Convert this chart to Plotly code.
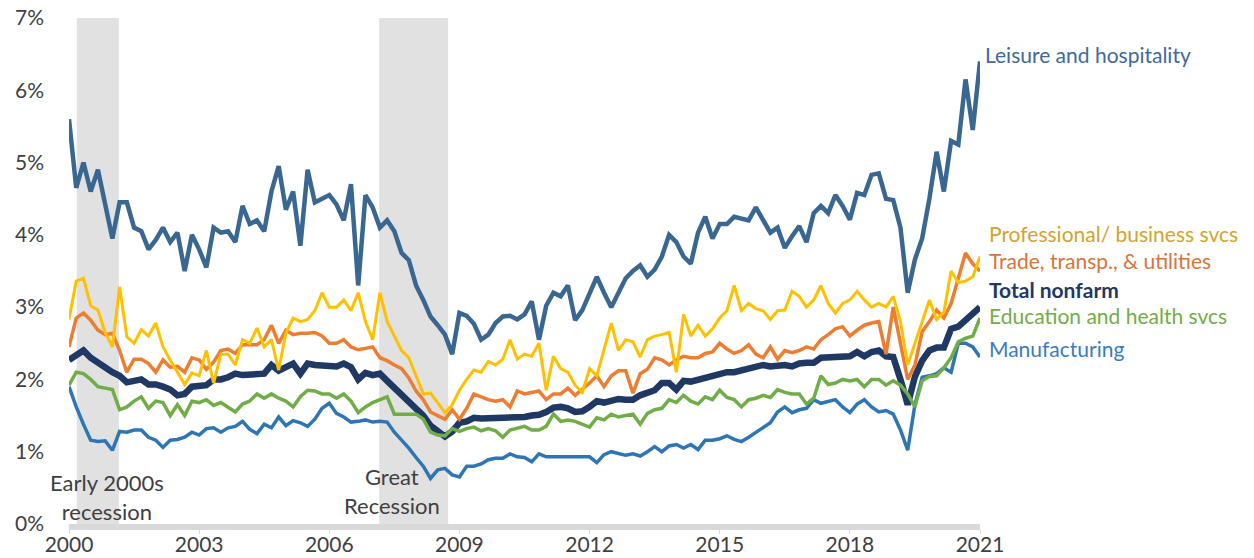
"""Quit rates by industry, 2000-2021, with recession shading."""

import plotly.graph_objects as go

# bimonthly observations, 2000 .. 2021
years = [2000 + i / 6 for i in range(127)]

leisure = [
    5.6, 4.65, 5.0, 4.6, 4.9, 4.4, 3.95, 4.45, 4.45, 4.1,
    4.05, 3.8, 3.93, 4.1, 3.9, 4.03, 3.5, 4.0, 3.8, 3.55,
    4.1, 4.03, 4.05, 3.9, 4.4, 4.15, 4.2, 4.05, 4.6, 4.95,
    4.35, 4.6, 3.85, 4.9, 4.45, 4.5, 4.55, 4.42, 4.2, 4.7,
    3.3, 4.55, 4.38, 4.1, 4.2, 4.05, 3.75, 3.65, 3.3, 3.1,
    2.87, 2.75, 2.62, 2.35, 2.92, 2.88, 2.77, 2.55, 2.62, 2.78,
    2.87, 2.88, 2.83, 2.9, 3.08, 2.55, 3.02, 3.2, 3.15, 3.3,
    2.82, 2.96, 3.18, 3.42, 3.2, 3.0, 3.2, 3.4, 3.5, 3.58,
    3.42, 3.52, 3.7, 4.0, 3.9, 3.7, 3.6, 4.03, 4.25, 3.95,
    4.15, 4.15, 4.25, 4.22, 4.2, 4.38, 4.2, 4.03, 4.1, 3.82,
    3.98, 4.12, 3.9, 4.3, 4.4, 4.3, 4.55, 4.4, 4.21, 4.58,
    4.55, 4.83, 4.85, 4.5, 4.48, 4.1, 3.2, 3.66, 3.95, 4.5,
    5.15, 4.6, 5.3, 5.25, 6.15, 5.45, 6.4,
]

professional = [
    2.83, 3.36, 3.4, 3.02, 2.96, 2.65, 2.45, 3.28, 2.59, 2.5,
    2.69, 2.6, 2.78, 2.45, 2.27, 2.1, 1.93, 2.09, 2.05, 2.4,
    1.95, 2.35, 2.35, 2.2, 2.55, 2.5, 2.71, 2.45, 2.55, 2.13,
    2.64, 2.85, 2.8, 2.83, 2.95, 3.2, 3.0, 3.0, 3.1, 2.95,
    3.2, 2.8, 2.55, 3.2, 2.8, 2.6, 2.4, 2.3, 2.05, 1.8,
    1.81, 1.68, 1.54, 1.65, 1.85, 2.0, 2.13, 2.1, 2.25, 2.2,
    2.28, 2.55, 2.28, 2.35, 2.32, 2.5, 1.85, 2.32, 2.15, 2.1,
    1.92, 1.82, 2.15, 2.05, 2.4, 2.78, 2.4, 2.55, 2.52, 2.31,
    2.55, 2.6, 2.62, 2.65, 2.1, 2.9, 2.6, 2.75, 2.6, 2.7,
    2.85, 2.95, 3.3, 2.95, 3.05, 2.98, 2.95, 2.83, 2.95, 2.96,
    3.22, 3.15, 3.0, 3.1, 3.3, 3.05, 2.92, 3.05, 3.1, 3.22,
    3.1, 3.0, 3.05, 3.0, 3.15, 2.8, 2.2, 2.5, 2.8, 3.1,
    2.83, 2.93, 3.5, 3.34, 3.36, 3.42, 3.7,
]

trade = [
    2.45, 2.85, 2.92, 2.82, 2.68, 2.62, 2.64, 2.4, 2.1, 2.28,
    2.28, 2.22, 2.1, 2.27, 2.17, 2.18, 2.1, 2.3, 2.27, 2.14,
    2.24, 2.4, 2.42, 2.36, 2.48, 2.48, 2.48, 2.55, 2.75, 2.5,
    2.68, 2.62, 2.64, 2.64, 2.65, 2.6, 2.5, 2.5, 2.55, 2.45,
    2.41, 2.43, 2.45, 2.3, 2.26, 2.2, 2.15, 2.02, 1.84, 1.72,
    1.55, 1.5, 1.45, 1.58, 1.45, 1.6, 1.8, 1.76, 1.72, 1.7,
    1.72, 1.62, 1.84, 1.8, 1.82, 1.84, 1.72, 1.8, 1.8, 1.88,
    1.78, 1.86, 1.95, 2.05, 1.9, 2.05, 2.12, 2.12, 1.81, 2.08,
    2.14, 2.3, 2.27, 2.2, 2.27, 2.32, 2.3, 2.3, 2.36, 2.38,
    2.5, 2.42, 2.36, 2.4, 2.48, 2.35, 2.3, 2.45, 2.28, 2.4,
    2.37, 2.4, 2.45, 2.42, 2.55, 2.62, 2.7, 2.73, 2.6, 2.68,
    2.75, 2.78, 2.8, 2.35, 3.0, 2.5, 2.0, 2.2, 2.66, 2.8,
    2.96, 2.85, 3.05, 3.4, 3.75, 3.6, 3.5,
]

total_nonfarm = [
    2.27, 2.33, 2.4, 2.3, 2.23, 2.15, 2.1, 2.05, 1.96, 1.98,
    2.0, 1.93, 1.93, 1.9, 1.86, 1.78, 1.8, 1.9, 1.9, 1.92,
    2.0, 2.0, 2.03, 2.08, 2.06, 2.07, 2.06, 2.08, 2.2, 2.12,
    2.17, 2.22, 2.08, 2.22, 2.2, 2.2, 2.2, 2.18, 2.22, 2.17,
    2.0, 2.09, 2.06, 2.08, 1.98, 1.88, 1.8, 1.7, 1.6, 1.5,
    1.36, 1.28, 1.21, 1.28, 1.4, 1.42, 1.47, 1.46, 1.46, 1.47,
    1.46, 1.47, 1.46, 1.48, 1.5, 1.51, 1.55, 1.61, 1.62, 1.6,
    1.55, 1.56, 1.62, 1.7, 1.68, 1.71, 1.73, 1.72, 1.72, 1.78,
    1.82, 1.85, 1.95, 1.95, 1.86, 1.98, 1.97, 2.0, 2.02, 2.05,
    2.09, 2.1, 2.1, 2.13, 2.16, 2.17, 2.2, 2.18, 2.2, 2.2,
    2.18, 2.22, 2.23, 2.23, 2.3, 2.3, 2.31, 2.31, 2.32, 2.38,
    2.32, 2.38, 2.4, 2.32, 2.31, 2.0, 1.65, 2.04, 2.26, 2.4,
    2.44, 2.44, 2.7, 2.73, 2.82, 2.9, 3.0,
]

education = [
    1.92, 2.1, 2.08, 2.0, 1.9, 1.88, 1.86, 1.58, 1.62, 1.7,
    1.76, 1.6, 1.7, 1.68, 1.5, 1.65, 1.5, 1.7, 1.68, 1.72,
    1.64, 1.68, 1.62, 1.55, 1.66, 1.7, 1.8, 1.74, 1.8, 1.74,
    1.7, 1.62, 1.76, 1.85, 1.84, 1.8, 1.8, 1.74, 1.8, 1.7,
    1.54, 1.62, 1.68, 1.72, 1.76, 1.52, 1.52, 1.52, 1.52, 1.45,
    1.27, 1.23, 1.22, 1.32, 1.28, 1.32, 1.34, 1.29, 1.32, 1.29,
    1.2, 1.3, 1.32, 1.35, 1.3, 1.3, 1.35, 1.52, 1.42, 1.44,
    1.42, 1.38, 1.34, 1.47, 1.44, 1.52, 1.48, 1.5, 1.52, 1.38,
    1.53, 1.58, 1.6, 1.72, 1.68, 1.78, 1.7, 1.66, 1.76, 1.72,
    1.85, 1.75, 1.72, 1.62, 1.72, 1.74, 1.78, 1.75, 1.86, 1.82,
    1.8, 1.8, 1.66, 1.74, 2.05, 1.93, 1.95, 2.0, 1.98, 2.0,
    1.9, 2.0, 2.0, 1.92, 1.98, 1.92, 1.8, 1.62, 1.98, 2.04,
    2.05, 2.16, 2.3, 2.52, 2.57, 2.6, 2.85,
]

manufacturing = [
    1.9, 1.62, 1.38, 1.16, 1.14, 1.15, 1.02, 1.28, 1.27, 1.3,
    1.3, 1.2, 1.16, 1.06, 1.16, 1.17, 1.2, 1.27, 1.23, 1.32,
    1.33, 1.27, 1.33, 1.35, 1.42, 1.31, 1.25, 1.38, 1.33, 1.48,
    1.36, 1.43, 1.4, 1.35, 1.45, 1.6, 1.67, 1.53, 1.48, 1.41,
    1.42, 1.44, 1.41, 1.42, 1.41, 1.27, 1.16, 1.05, 0.92, 0.8,
    0.63, 0.75, 0.77, 0.68, 0.65, 0.8, 0.8, 0.83, 0.89, 0.91,
    0.91, 0.97, 0.93, 0.92, 0.86, 0.97, 0.93, 0.93, 0.93, 0.93,
    0.93, 0.93, 0.93, 0.85, 0.96, 1.0, 0.98, 0.95, 0.97, 0.94,
    1.0, 1.07, 1.0, 1.08, 1.1, 1.05, 1.1, 1.03, 1.16, 1.16,
    1.18, 1.22, 1.17, 1.14, 1.2, 1.27, 1.33, 1.4, 1.55, 1.62,
    1.54, 1.58, 1.6, 1.72, 1.67, 1.7, 1.72, 1.62, 1.54, 1.66,
    1.72, 1.62, 1.55, 1.57, 1.52, 1.3, 1.02, 1.65, 2.03, 2.05,
    2.08, 2.16, 2.1, 2.5, 2.5, 2.45, 2.31,
]

recessions = [(2000.18, 2001.15), (2007.15, 2008.74)]
recession_labels = ["Early 2000s<br>recession", "Great<br>Recession"]
recession_label_x = [2000.88, 2007.45]
recession_label_y = [0.38, 0.45]

x_ticks = [2000, 2003, 2006, 2009, 2012, 2015, 2018, 2021]
y_ticks = [0, 1, 2, 3, 4, 5, 6, 7]
Y_MAX = 7

FONT = "Lato, 'Open Sans', sans-serif"

# (name, values, line colour, width, label colour, label y, bold)
series = [
    ("Total nonfarm", total_nonfarm, "#1f3864", 6.5, "#1f3864", 3.24, True),
    ("Manufacturing", manufacturing, "#2e75b6", 3.5, "#3a7cc0", 2.43, False),
    ("Education and health svcs", education, "#70ad47", 3.5, "#70ad47", 2.88, False),
    ("Trade, transp., & utilities", trade, "#ed7d31", 3.5, "#d9743a", 3.65, False),
    ("Professional/ business svcs", professional, "#ffc000", 3, "#cfa52e", 4.02, False),
    ("Leisure and hospitality", leisure, "#3a6791", 4.5, "#41699a", 6.49, False),
]

fig = go.Figure()

for name, values, color, width, label_color, label_y, bold in series:
    fig.add_trace(
        go.Scatter(
            x=years,
            y=values,
            mode="lines",
            name=name,
            line=dict(color=color, width=width),
        )
    )
    # labels sit just right of the plot area, so use paper coordinates
    fig.add_annotation(
        x=1.003 if name.startswith("Leisure") else 1.008,
        y=label_y / Y_MAX,
        xref="paper",
        yref="paper",
        text=f"<b>{name}</b>" if bold else name,
        showarrow=False,
        xanchor="left",
        yanchor="middle",
        font=dict(family=FONT, size=21, color=label_color),
    )

for (start, end), label, lx, ly in zip(
    recessions, recession_labels, recession_label_x, recession_label_y
):
    fig.add_shape(
        type="rect",
        x0=start,
        x1=end,
        y0=0,
        y1=Y_MAX,
        xref="x",
        yref="y",
        fillcolor="#e1e1e1",
        line=dict(width=0),
        layer="below",
    )
    fig.add_annotation(
        x=lx,
        y=ly,
        xref="x",
        yref="y",
        text=label,
        showarrow=False,
        font=dict(family=FONT, size=22, color="#404040"),
    )

fig.update_layout(
    width=1254,
    height=558,
    margin=dict(l=69, r=274, t=18, b=34),
    paper_bgcolor="white",
    plot_bgcolor="white",
    showlegend=False,
    font=dict(family=FONT, size=20, color="#404040"),
    xaxis=dict(
        range=[2000, 2021],
        tickmode="array",
        tickvals=x_ticks,
        ticktext=[str(t) for t in x_ticks],
        showgrid=False,
        zeroline=False,
        showline=True,
        linecolor="#d9d9d9",
        linewidth=6,
        ticks="outside",
        ticklen=4,
        tickcolor="#d9d9d9",
        tickfont=dict(size=21),
        ticklabelstandoff=-7,
        automargin=False,
    ),
    yaxis=dict(
        range=[0, Y_MAX],
        tickmode="array",
        tickvals=y_ticks,
        ticktext=[f"{t}%" for t in y_ticks],
        showgrid=False,
        zeroline=False,
        showline=False,
        ticks="",
        ticklabelstandoff=24,
        tickfont=dict(size=21),
        automargin=False,
    ),
)

# drop the default page margin so the figure fills the window exactly
fig.write_html(
    "out.html",
    config={"displayModeBar": False},
    post_script="document.body.style.margin = '0';",
)
